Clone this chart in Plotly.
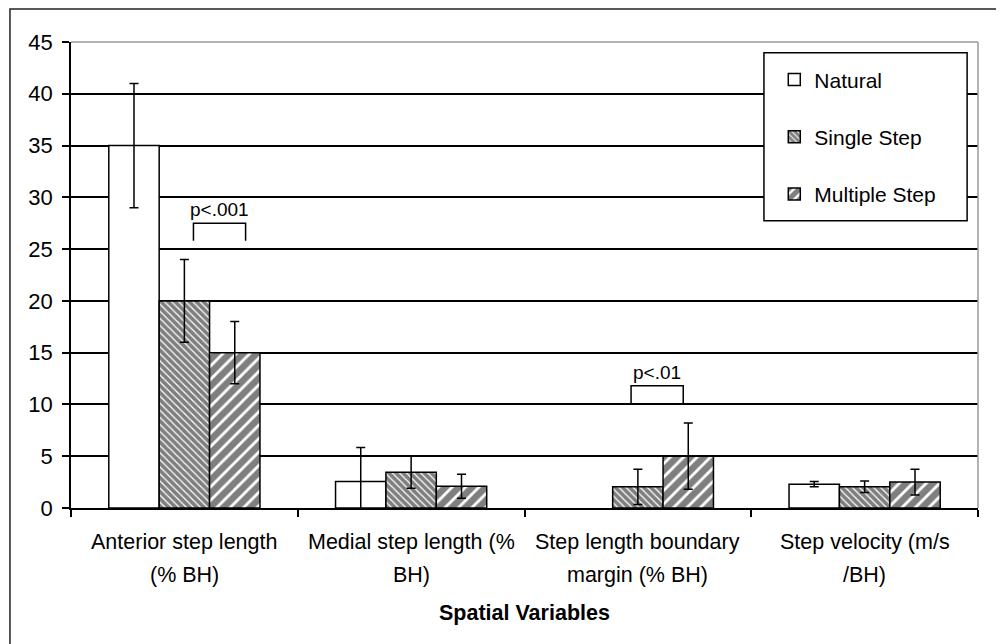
import plotly.graph_objects as go

categories = ["Anterior step length<br>(% BH)", "Medial step length (%<br>BH)",
              "Step length boundary<br>margin (% BH)", "Step velocity (m/s<br>/BH)"]
series_names = ["Natural", "Single Step", "Multiple Step"]
natural = [35, 2.55, None, 2.3]
natural_err = [6, 3.3, 0, 0.25]
single = [20, 3.45, 2.05, 2.05]
single_err = [4, 1.55, 1.7, 0.55]
multiple = [15, 2.1, 5.0, 2.5]
multiple_err = [3, 1.15, 3.2, 1.25]
y_ticks = [0, 5, 10, 15, 20, 25, 30, 35, 40, 45]
x_title = "Spatial Variables"

# significance brackets (x in category units, y in data units)
p_labels = ["p<.001", "p<.01"]
bracket_x0 = [0.04, 1.97]
bracket_x1 = [0.27, 2.2]
bracket_top = [27.5, 11.8]
bracket_base = [25.8, 10.0]

FONT = "Liberation Sans, Arial, sans-serif"
idx = list(range(len(categories)))

def mk_bar(name, vals, errs, pattern):
    return go.Bar(
        name=name, x=idx, y=vals, legendgroup=name,
        marker=dict(color="white", line=dict(color="black", width=1.5), pattern=pattern),
        error_y=dict(type="data", array=errs, visible=True, color="black", thickness=1.5, width=4.5),
    )

fig = go.Figure()
fig.add_trace(mk_bar(series_names[0], natural, natural_err, dict(shape="")))
fig.add_trace(mk_bar(series_names[1], single, single_err,
                     dict(shape="\\", size=5, solidity=0.75, fgcolor="black", bgcolor="white")))
fig.add_trace(mk_bar(series_names[2], multiple, multiple_err,
                     dict(shape="/", size=9.5, solidity=0.7, fgcolor="black", bgcolor="white")))

shapes = []
# outer frame
shapes.append(dict(type="rect", xref="paper", yref="paper", x0=-0.0673, x1=1.04, y0=-0.31, y1=1.0708,
                   line=dict(color="#222", width=1.5), fillcolor="rgba(0,0,0,0)", layer="below"))
# gray plot frame top/right
shapes.append(dict(type="line", xref="paper", yref="paper", x0=0, x1=1, y0=1, y1=1,
                   line=dict(color="#9a9a9a", width=1.5), layer="above"))
shapes.append(dict(type="line", xref="paper", yref="paper", x0=1, x1=1, y0=0, y1=1,
                   line=dict(color="#9a9a9a", width=1.5), layer="above"))
# legend box
shapes.append(dict(type="rect", xref="paper", yref="paper", x0=0.764, x1=0.988, y0=0.6165, y1=0.977,
                   line=dict(color="black", width=1.5), fillcolor="white", layer="above"))
annotations = []
for lab, x0, x1, yt, yb in zip(p_labels, bracket_x0, bracket_x1, bracket_top, bracket_base):
    shapes.append(dict(type="path", xref="x", yref="y",
                       path=f"M {x0},{yb} L {x0},{yt} L {x1},{yt} L {x1},{yb}",
                       line=dict(color="black", width=1.5), layer="above"))
    annotations.append(dict(x=(x0 + x1) / 2, y=yt, xref="x", yref="y", text=lab, showarrow=False,
                            yanchor="bottom", yshift=1, font=dict(size=19, color="black", family=FONT)))

for i, c in enumerate(categories):
    lines = c.split("<br>")
    for j, ln in enumerate(lines):
        annotations.append(dict(x=i, y=-0.0719 - 0.0729 * j, xref="x", yref="paper", text=ln,
                                showarrow=False, yanchor="middle",
                                font=dict(size=21.5, color="black", family=FONT)))
annotations.append(dict(x=0.5, y=-0.2253, xref="paper", yref="paper", text=f"<b>{x_title}</b>",
                        showarrow=False, yanchor="middle", font=dict(size=21.5, color="black", family=FONT)))

fig.update_layout(
    width=996, height=636,
    margin=dict(l=63, r=26, t=34, b=136),
    paper_bgcolor="white", plot_bgcolor="white",
    font=dict(family=FONT, size=21, color="black"),
    barmode="group", bargap=1/3, bargroupgap=0,
    showlegend=True,
    legend=dict(x=0.7754, y=0.963, xanchor="left", yanchor="top", bgcolor="rgba(0,0,0,0)",
                borderwidth=0, font=dict(size=21, color="black", family=FONT),
                tracegroupgap=27, traceorder="grouped", itemwidth=30),
    shapes=shapes, annotations=annotations,
)
fig.update_xaxes(type="linear", range=[-0.5, 3.5], tickvals=[-0.5, 0.5, 1.5, 2.5, 3.5],
                 showticklabels=False, ticks="outside", ticklen=7, tickwidth=1.5, tickcolor="black",
                 showline=True, linecolor="black", linewidth=1.5, showgrid=False, zeroline=False)
fig.update_yaxes(range=[0, 45], tickvals=y_ticks, ticks="outside", ticklen=7, tickwidth=1.5,
                 tickcolor="black", showline=True, linecolor="black", linewidth=1.5,
                 showgrid=True, gridcolor="black", gridwidth=1.5, zeroline=False,
                 ticklabelstandoff=5, tickfont=dict(size=22))

fig.write_html("out.html")
